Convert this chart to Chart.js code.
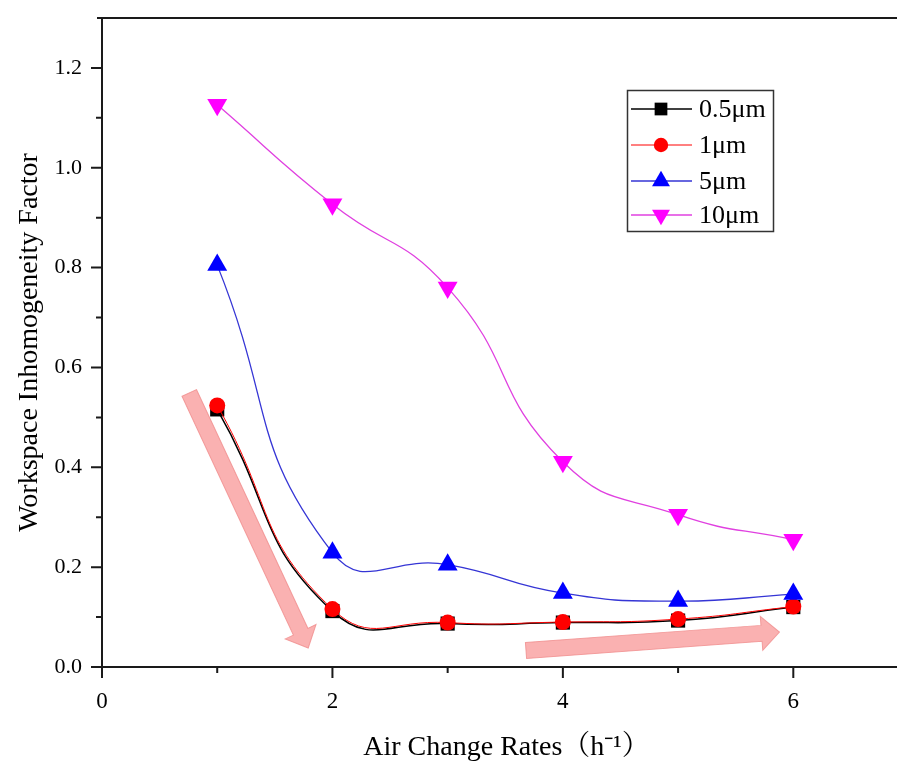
<!DOCTYPE html>
<html>
<head>
<meta charset="utf-8">
<script src="https://cdn.jsdelivr.net/npm/chart.js@4.4.1/dist/chart.umd.min.js"></script>
<style>
  html, body { margin: 0; padding: 0; background: #fff; overflow: hidden; }
  #wrap { width: 897px; height: 764px; }
</style>
</head>
<body>
<div id="wrap"><canvas id="c" width="897" height="764"></canvas></div>
<script>
// Air change rate (h^-1) and the workspace inhomogeneity factor per particle size
const airChangeRates = [1, 2, 3, 4, 5, 6];
const factor05um = [0.516, 0.112, 0.087, 0.089, 0.093, 0.120];
const factor1um  = [0.524, 0.116, 0.089, 0.090, 0.096, 0.121];
const factor5um  = [0.805, 0.229, 0.205, 0.148, 0.132, 0.146];
const factor10um = [1.126, 0.927, 0.760, 0.411, 0.305, 0.255];

const seriesNames = ['0.5\u03bcm', '1\u03bcm', '5\u03bcm', '10\u03bcm'];

// Axis ticks
const xMajorTicks = [0, 2, 4, 6];
const xMinorTicks = [1, 3, 5];
const yMajorTicks = [0, 0.2, 0.4, 0.6, 0.8, 1.0, 1.2];
const yMinorTicks = [0.1, 0.3, 0.5, 0.7, 0.9, 1.1];

// Trend arrows, given as [tailX, tailY, tipX, tipY] in data units
const trendArrows = [
  [0.757, 0.549, 1.79, 0.038],
  [3.68, 0.033, 5.88, 0.070]
];

const SERIF = "'Liberation Serif', 'Times New Roman', 'Noto Serif CJK SC', 'Noto Sans CJK SC', serif";

function pts(values) {
  return airChangeRates.map((x, i) => ({ x: x, y: values[i] }));
}

// Pink translucent block arrows behind the curves
const arrowPlugin = {
  id: 'trendArrows',
  beforeDatasetsDraw(chart) {
    const { ctx, scales: { x, y } } = chart;
    ctx.save();
    trendArrows.forEach(a => {
      const x0 = x.getPixelForValue(a[0]), y0 = y.getPixelForValue(a[1]);
      const x1 = x.getPixelForValue(a[2]), y1 = y.getPixelForValue(a[3]);
      const len = Math.hypot(x1 - x0, y1 - y0);
      const ang = Math.atan2(y1 - y0, x1 - x0);
      const shaft = 8, head = 17, headLen = 18;
      ctx.save();
      ctx.translate(x0, y0);
      ctx.rotate(ang);
      ctx.beginPath();
      ctx.moveTo(0, -shaft);
      ctx.lineTo(len - headLen, -shaft);
      ctx.lineTo(len - headLen, -head);
      ctx.lineTo(len, 0);
      ctx.lineTo(len - headLen, head);
      ctx.lineTo(len - headLen, shaft);
      ctx.lineTo(0, shaft);
      ctx.closePath();
      ctx.fillStyle = 'rgba(246, 125, 125, 0.6)';
      ctx.fill();
      ctx.strokeStyle = 'rgba(240, 140, 140, 0.8)';
      ctx.lineWidth = 1;
      ctx.stroke();
      ctx.restore();
    });
    ctx.restore();
  }
};

// Frame lines with outward major and minor tick marks
const framePlugin = {
  id: 'frame',
  afterDraw(chart) {
    const { ctx, chartArea: a, scales: { x, y } } = chart;
    ctx.save();
    ctx.strokeStyle = '#1a1a1a';
    ctx.lineWidth = 2;
    ctx.lineCap = 'butt';
    ctx.beginPath();
    ctx.moveTo(a.left - 5, a.top); ctx.lineTo(chart.width, a.top);
    ctx.moveTo(a.left, a.top); ctx.lineTo(a.left, a.bottom);
    ctx.moveTo(a.left, a.bottom); ctx.lineTo(chart.width, a.bottom);
    xMajorTicks.forEach(v => { const px = x.getPixelForValue(v); ctx.moveTo(px, a.bottom); ctx.lineTo(px, a.bottom + 11); });
    xMinorTicks.forEach(v => { const px = x.getPixelForValue(v); ctx.moveTo(px, a.bottom); ctx.lineTo(px, a.bottom + 6); });
    yMajorTicks.forEach(v => { const py = y.getPixelForValue(v); ctx.moveTo(a.left, py); ctx.lineTo(a.left - 11, py); });
    yMinorTicks.forEach(v => { const py = y.getPixelForValue(v); ctx.moveTo(a.left, py); ctx.lineTo(a.left - 6, py); });
    ctx.stroke();
    ctx.restore();
  }
};

// Boxed legend: line sample with marker, then the series name
const legendPlugin = {
  id: 'boxLegend',
  afterDraw(chart) {
    const { ctx } = chart;
    const bx = 627.5, by = 90.5, bw = 146, bh = 141;
    const rowY = [109, 145, 181, 215];
    ctx.save();
    ctx.fillStyle = '#fff';
    ctx.fillRect(bx, by, bw, bh);
    ctx.strokeStyle = '#333';
    ctx.lineWidth = 1.5;
    ctx.strokeRect(bx, by, bw, bh);
    chart.data.datasets.forEach((ds, i) => {
      const cy = rowY[i];
      ctx.strokeStyle = ds.borderColor;
      ctx.lineWidth = ds.borderWidth;
      ctx.beginPath();
      ctx.moveTo(631, cy); ctx.lineTo(692, cy);
      ctx.stroke();
      ctx.fillStyle = ds.pointBackgroundColor;
      Chart.helpers.drawPoint(ctx, {
        pointStyle: ds.pointStyle,
        rotation: ds.pointRotation || 0,
        radius: ds.pointRadius * 0.9,
        borderWidth: 0
      }, 661, cy);
      ctx.fillStyle = '#000';
      ctx.font = '26px ' + SERIF;
      ctx.textBaseline = 'middle';
      ctx.textAlign = 'left';
      ctx.fillText(ds.label, 699, cy + 1);
    });
    ctx.restore();
  }
};

const datasets = [
  { label: seriesNames[0], data: pts(factor05um), borderColor: '#000000', pointBackgroundColor: '#000000',
    pointStyle: 'rect', pointRadius: 10, borderWidth: 1.5, order: 4 },
  { label: seriesNames[1], data: pts(factor1um), borderColor: '#ff0000', pointBackgroundColor: '#ff0000',
    pointStyle: 'circle', pointRadius: 8, borderWidth: 1, order: 3 },
  { label: seriesNames[2], data: pts(factor5um), borderColor: '#3535d5', pointBackgroundColor: '#0000ff',
    pointStyle: 'triangle', pointRadius: 11.5, borderWidth: 1.3, order: 2 },
  { label: seriesNames[3], data: pts(factor10um), borderColor: '#e040e0', pointBackgroundColor: '#ff00ff',
    pointStyle: 'triangle', pointRotation: 180, pointRadius: 11.5, borderWidth: 1.3, order: 1 }
].map(d => Object.assign({
  pointBorderWidth: 0,
  pointBorderColor: d.pointBackgroundColor,
  tension: 0.5,
  fill: false,
  clip: false
}, d));

new Chart(document.getElementById('c'), {
  type: 'line',
  data: { datasets: datasets },
  options: {
    responsive: false,
    animation: false,
    events: [],
    layout: { autoPadding: false, padding: { left: 0, right: 0, top: 18, bottom: 0 } },
    plugins: { legend: { display: false }, tooltip: { enabled: false } },
    scales: {
      x: {
        type: 'linear', min: 0, max: 6.9,
        afterBuildTicks: s => { s.ticks = xMajorTicks.map(v => ({ value: v })); },
        afterFit: s => { s.height = 97; s.paddingLeft = 0; s.paddingRight = 0; },
        grid: { display: false, drawTicks: false },
        border: { display: false },
        ticks: { color: '#000', padding: 21, autoSkip: false, maxRotation: 0,
                 font: { family: SERIF, size: 23 }, callback: v => String(v) },
        title: { display: true, text: '\u2002Air Change Rates\uff08h\u207b\u00b9\uff09', color: '#000',
                 font: { family: SERIF, size: 28 }, padding: { top: 0, bottom: 0 } }
      },
      y: {
        type: 'linear', min: 0, max: 1.3,
        afterBuildTicks: s => { s.ticks = yMajorTicks.map(v => ({ value: v })); },
        afterFit: s => { s.width = 102; s.paddingTop = 0; s.paddingBottom = 0; s.paddingLeft = 0; s.paddingRight = 0; },
        grid: { display: false, drawTicks: false },
        border: { display: false },
        ticks: { color: '#000', padding: 20, autoSkip: false,
                 font: { family: SERIF, size: 22 }, callback: v => v.toFixed(1) },
        title: { display: true, text: 'Workspace Inhomogeneity Factor', color: '#000',
                 font: { family: SERIF, size: 28 }, padding: { top: 13, bottom: 0 } }
      }
    }
  },
  plugins: [arrowPlugin, framePlugin, legendPlugin]
});
</script>
</body>
</html>
